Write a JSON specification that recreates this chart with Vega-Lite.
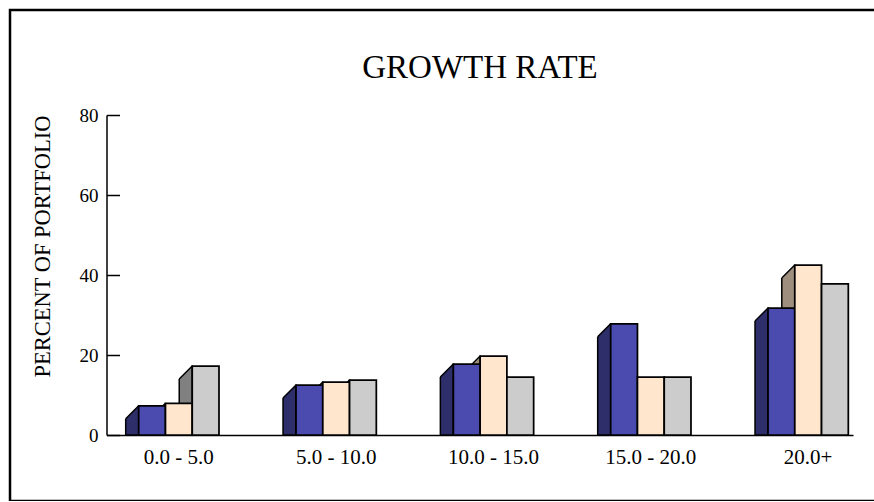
{
  "$schema": "https://vega.github.io/schema/vega-lite/v6.json",
  "width": 866,
  "height": 491,
  "autosize": {"type": "none"},
  "padding": {"left": 10, "top": 10, "right": 0, "bottom": 0},
  "background": "white",
  "config": {
    "view": {"stroke": "black", "strokeWidth": 2.5},
    "font": "Liberation Serif"
  },
  "title": {
    "text": "GROWTH RATE",
    "font": "Liberation Serif",
    "fontSize": 33,
    "fontWeight": "normal",
    "color": "black",
    "anchor": "middle",
    "baseline": "alphabetic",
    "offset": -101,
    "dx": 37
  },
  "data": {
    "values": [
      {"group": "0.0 - 5.0", "series": "Series 1", "value": 7.3},
      {"group": "0.0 - 5.0", "series": "Series 2", "value": 7.9},
      {"group": "0.0 - 5.0", "series": "Series 3", "value": 17.25},
      {"group": "5.0 - 10.0", "series": "Series 1", "value": 12.5},
      {"group": "5.0 - 10.0", "series": "Series 2", "value": 13.25},
      {"group": "5.0 - 10.0", "series": "Series 3", "value": 13.75},
      {"group": "10.0 - 15.0", "series": "Series 1", "value": 17.75},
      {"group": "10.0 - 15.0", "series": "Series 2", "value": 19.75},
      {"group": "10.0 - 15.0", "series": "Series 3", "value": 14.5},
      {"group": "15.0 - 20.0", "series": "Series 1", "value": 27.8},
      {"group": "15.0 - 20.0", "series": "Series 2", "value": 14.5},
      {"group": "15.0 - 20.0", "series": "Series 3", "value": 14.5},
      {"group": "20.0+", "series": "Series 1", "value": 31.75},
      {"group": "20.0+", "series": "Series 2", "value": 42.5},
      {"group": "20.0+", "series": "Series 3", "value": 37.8}
    ]
  },
  "encoding": {
    "x": {
      "field": "group",
      "type": "nominal",
      "sort": ["0.0 - 5.0", "5.0 - 10.0", "10.0 - 15.0", "15.0 - 20.0", "20.0+"],
      "scale": {"range": [96.5, 843], "paddingInner": 0.4896, "paddingOuter": 0.1172, "align": 0.873, "round": false},
      "axis": {
        "title": null,
        "orient": "bottom",
        "offset": -66,
        "ticks": false,
        "labelAngle": 0,
        "labelPadding": 11,
        "labelFont": "Liberation Serif",
        "labelFontSize": 21,
        "labelColor": "black",
        "domainColor": "black",
        "domainWidth": 1.5
      }
    },
    "y": {
      "field": "value",
      "type": "quantitative",
      "scale": {"domain": [0, 80], "range": [425, 105], "nice": false, "zero": true},
      "axis": {
        "title": "PERCENT OF PORTFOLIO",
        "values": [0, 20, 40, 60, 80],
        "offset": -96.5,
        "grid": false,
        "tickSize": -13,
        "tickColor": "black",
        "tickWidth": 1.5,
        "labelPadding": 21.5,
        "labelFont": "Liberation Serif",
        "labelFontSize": 19,
        "labelColor": "black",
        "domainColor": "black",
        "domainWidth": 1.5,
        "titleFont": "Liberation Serif",
        "titleFontSize": 22.5,
        "titleFontWeight": "normal",
        "titleColor": "black",
        "titleAngle": -90,
        "titleAlign": "center",
        "titleBaseline": "middle",
        "titleX": -64.5,
        "titleY": 236
      }
    }
  },
  "layer": [
    {
      "mark": {"type": "bar", "width": 13, "stroke": "black", "strokeWidth": 1.5},
      "encoding": {
        "xOffset": {"field": "series", "type": "nominal", "sort": ["Series 1", "Series 2", "Series 3"],
          "scale": {"range": [-19.88, 60.42], "paddingInner": 0, "paddingOuter": 0}},
        "fill": {"field": "series", "type": "nominal", "legend": null,
          "scale": {"domain": ["Series 1", "Series 2", "Series 3"], "range": ["#2E2E6B", "#9E8E7D", "#808080"]}}
      }
    },
    {
      "mark": {"type": "point", "shape": "M -1.35 -1.35 L 1 -1.35 L 1 -1 L -1 1 L -1.35 1 Z", "size": 169, "filled": true, "opacity": 1, "fill": "white", "strokeWidth": 0, "yOffset": 6.5},
      "encoding": {
        "xOffset": {"field": "series", "type": "nominal", "sort": ["Series 1", "Series 2", "Series 3"],
          "scale": {"type": "point", "range": [-6.5, 47.04], "padding": 0}}
      }
    },
    {
      "mark": {"type": "point", "shape": "M -1 1 L 1 -1", "size": 169, "filled": false, "opacity": 1, "stroke": "black", "strokeWidth": 1.5, "yOffset": 6.5},
      "encoding": {
        "xOffset": {"field": "series", "type": "nominal", "sort": ["Series 1", "Series 2", "Series 3"],
          "scale": {"type": "point", "range": [-6.5, 47.04], "padding": 0}}
      }
    },
    {
      "mark": {"type": "bar", "stroke": "black", "strokeWidth": 1.75},
      "encoding": {
        "xOffset": {"field": "series", "type": "nominal", "sort": ["Series 1", "Series 2", "Series 3"],
          "scale": {"paddingInner": 0, "paddingOuter": 0}},
        "fill": {"field": "series", "type": "nominal", "legend": null,
          "scale": {"domain": ["Series 1", "Series 2", "Series 3"], "range": ["#4B4BAF", "#FFE6CC", "#CCCCCC"]}}
      }
    }
  ],
  "resolve": {"scale": {"fill": "independent", "xOffset": "independent"}}
}
